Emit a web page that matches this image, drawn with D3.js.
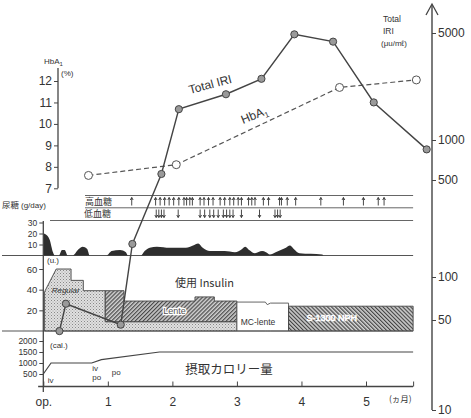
<!DOCTYPE html>
<html>
<head>
<meta charset="utf-8">
<script src="https://cdn.jsdelivr.net/npm/d3@7"></script>
<style>
  body { margin: 0; background: #fff; }
  svg { display: block; }
</style>
</head>
<body>
<svg id="chart" width="471" height="418"></svg>
<script>
// ---- data (time in months after operation) ----
const monthTicks  = [0, 1, 2, 3, 4, 5, 5.73];
const monthLabels = ["op.", "1", "2", "3", "4", "5", ""];

// Total IRI (μu/ml), log axis
const iriTicks  = [10, 50, 100, 500, 1000, 5000];
const iriMonths = [0.25, 0.35, 1.2, 1.38, 1.83, 2.1, 2.83, 3.38, 3.89, 4.49, 5.12, 5.94];
const iriValues = [41, 65, 46, 173, 555, 1590, 1990, 2510, 4900, 4390, 1760, 850];

// HbA1 (%)
const hbTicks   = [7, 8, 9, 10, 11, 12];
const hbMonths  = [0.7, 2.06, 4.59, 5.78];
const hbValues  = [7.6, 8.1, 11.7, 12.05];

// hyper- / hypoglycaemia episodes
const hyperMonths = [1.37, 1.74, 1.81, 1.88, 1.95, 2.02, 2.1, 2.18, 2.22, 2.27, 2.31, 2.43, 2.49, 2.56,
                     2.63, 2.74, 2.81, 2.89, 2.95, 3.02, 3.07, 3.18, 3.23, 3.28, 3.41, 3.49, 3.66, 3.69,
                     3.78, 3.91, 4.3, 4.65, 4.96, 5.19, 5.28];
const hypoMonths  = [1.75, 1.79, 1.83, 1.87, 2.09, 2.43, 2.5, 2.58, 2.64, 2.71, 2.79, 2.84, 2.89, 2.94,
                     3.07, 3.35, 3.59, 3.63, 3.67];

// urinary glucose (g/day)
const urineTicks  = [10, 20, 30];
const urineMonths = [0, 0.04, 0.1, 0.15, 0.18, 0.24, 0.29, 0.33, 0.38, 0.45, 0.55, 0.61, 0.68, 0.72,
                     0.98, 1.06, 1.19, 1.28, 1.31, 1.51, 1.57, 1.65, 1.76, 1.96, 2.21, 2.32, 2.4, 2.47,
                     2.58, 2.81, 2.97, 3.08, 3.13, 3.19, 3.28, 3.39, 3.45, 3.51, 3.6, 3.76, 3.82, 3.88,
                     3.97, 4.32, 4.34];
const urineValues = [20, 19, 14, 3, 0, 0, 5, 5, 0, 0, 6, 8, 6, 0,
                     0, 4, 5, 3, 0, 0, 4, 7, 8, 7, 7, 9, 11, 7,
                     4, 4, 3, 6, 8, 5, 2, 4, 3, 1, 3, 7, 9, 6,
                     2, 1, 0];

// insulin doses (u.)
const insTicks       = [20, 40, 60];
const regularMonths  = [0.02, 0.2, 0.43, 0.43, 0.62, 0.62, 0.96, 0.96, 3.0];
const regularDoses   = [38, 60, 60, 49, 49, 39, 39, 9, 9];
const lenteMonths    = [0.96, 1.25, 1.25, 2.35, 2.35, 2.65, 2.65, 3.0];
const lenteDoses     = [30, 30, 20, 20, 24, 24, 20, 20];
const mcLenteMonths  = [3.0, 3.44, 3.47, 3.52, 3.8];
const mcLenteDoses   = [28, 28, 25.5, 27, 27];
const nphMonths      = [3.8, 5.73];
const nphDoses       = [24, 24];

// caloric intake (cal.)
const calTicks    = [500, 1000, 1500, 2000];
const calMonths   = [0, 0.12, 0.75, 0.9, 1.8, 5.73];
const calValues   = [500, 1000, 1000, 1150, 1500, 1500];

// ---- drawing ----
const ink = "#333";
const latin = "'Liberation Sans', Arial, sans-serif";
const jp = "'Noto Sans CJK JP', sans-serif";
const svg = d3.select("#chart");

const x     = d3.scaleLinear().domain([0, 5]).range([43.3, 366]);
const yHb   = d3.scaleLinear().domain([7, 12]).range([188.3, 81]);
const yIri  = d3.scaleLog().domain(iriTicks).range([410, 320, 277, 180, 140, 33]);
const yUr   = d3.scaleLinear().domain([0, 30]).range([255.5, 222.5]);
const yIns  = d3.scaleLinear().domain([0, 60]).range([331, 269]);
const yCal  = d3.scaleLinear().domain([0, 2000]).range([385, 341]);
const xEnd  = x(5.73);

// fill patterns
const defs = svg.append("defs");
const stip = defs.append("pattern").attr("id", "stipple")
  .attr("patternUnits", "userSpaceOnUse").attr("width", 3).attr("height", 3);
stip.append("rect").attr("width", 3).attr("height", 3).attr("fill", "#e0e0e0");
stip.append("rect").attr("x", 0).attr("y", 0).attr("width", 1).attr("height", 1).attr("fill", "#888");
stip.append("rect").attr("x", 1.5).attr("y", 1.5).attr("width", 1).attr("height", 1).attr("fill", "#a0a0a0");

const lenteP = defs.append("pattern").attr("id", "hatchLente")
  .attr("patternUnits", "userSpaceOnUse").attr("width", 2.8).attr("height", 2.8)
  .attr("patternTransform", "rotate(45)");
lenteP.append("rect").attr("width", 2.8).attr("height", 2.8).attr("fill", "#cfcfcf");
lenteP.append("line").attr("x1", 0.6).attr("y1", 0).attr("x2", 0.6).attr("y2", 2.8)
  .attr("stroke", "#4a4a4a").attr("stroke-width", 1.2);

const nphP = defs.append("pattern").attr("id", "hatchNph")
  .attr("patternUnits", "userSpaceOnUse").attr("width", 2.8).attr("height", 2.8)
  .attr("patternTransform", "rotate(-45)");
nphP.append("rect").attr("width", 2.8).attr("height", 2.8).attr("fill", "#d4d4d4");
nphP.append("line").attr("x1", 0.6).attr("y1", 0).attr("x2", 0.6).attr("y2", 2.8)
  .attr("stroke", "#444").attr("stroke-width", 1.2);

function hline(y, x1, x2, w = 1, c = "#555") {
  svg.append("line").attr("x1", x1).attr("x2", x2).attr("y1", y).attr("y2", y)
    .attr("stroke", c).attr("stroke-width", w);
}
function label(t, px, py, size, opts = {}) {
  return svg.append("text").attr("x", px).attr("y", py)
    .attr("font-family", opts.family || latin).attr("font-size", size)
    .attr("fill", opts.fill || ink).attr("text-anchor", opts.anchor || "start")
    .text(t);
}

// ---- insulin blocks ----
const ins = svg.append("g");
ins.append("path")
  .datum(regularMonths.map((m, i) => [m, regularDoses[i]]))
  .attr("d", d3.area().x(d => x(d[0])).y0(yIns(0)).y1(d => yIns(d[1])))
  .attr("fill", "url(#stipple)").attr("stroke", "#444").attr("stroke-width", 0.9);
ins.append("path")
  .datum(lenteMonths.map((m, i) => [m, lenteDoses[i]]))
  .attr("d", d3.area().x(d => x(d[0])).y0(yIns(9)).y1(d => yIns(9 + d[1])))
  .attr("fill", "url(#hatchLente)").attr("stroke", "#444").attr("stroke-width", 0.9);
ins.append("path")
  .datum(mcLenteMonths.map((m, i) => [m, mcLenteDoses[i]]))
  .attr("d", d3.area().x(d => x(d[0])).y0(yIns(0)).y1(d => yIns(d[1])))
  .attr("fill", "#fff").attr("stroke", "#555").attr("stroke-width", 0.9);
ins.append("path")
  .datum(nphMonths.map((m, i) => [m, nphDoses[i]]))
  .attr("d", d3.area().x(d => x(d[0])).y0(yIns(0)).y1(d => yIns(d[1])))
  .attr("fill", "url(#hatchNph)").attr("stroke", "#444").attr("stroke-width", 0.9);

// insulin names
label("Regular", x(0.13), yIns(37), 8, { fill: "#333" }).attr("font-style", "italic");
label("Lente", x(1.86), yIns(16), 9, { fill: "#555" })
  .attr("stroke", "#fff").attr("stroke-width", 2.5).attr("paint-order", "stroke");
label("MC-lente", x(3.06), yIns(6), 8.5, { fill: "#333" });
label("S-1300 NPH", x(4.47), yIns(10), 9, { fill: "#fff", anchor: "middle" })
  .attr("stroke", "#fff").attr("stroke-width", 0.6);
label("使用 Insulin", x(2.04), yIns(43), 11, { family: jp });

// ---- guide / baseline lines ----
hline(195.5, 85, xEnd, 1, "#666");
hline(207.8, 85, xEnd, 1, "#666");
hline(220.5, 50, xEnd, 1, "#666");
hline(yUr(0), 2, xEnd, 1.2, "#555");
hline(yIns(0), 2, xEnd, 1.2, "#555");

// ---- urinary glucose ----
svg.append("path")
  .datum(urineMonths.map((m, i) => [m, urineValues[i]]))
  .attr("d", d3.area().curve(d3.curveMonotoneX).x(d => x(d[0])).y0(yUr(0)).y1(d => yUr(d[1])))
  .attr("fill", "#2e2e2e");

// ---- hyper / hypoglycaemia marks ----
label("高血糖", 85, 204.5, 9, { family: jp });
label("低血糖", 84, 217, 9, { family: jp });
const ev = svg.append("g").attr("stroke", "#333").attr("stroke-width", 0.9).attr("fill", "none");
hyperMonths.forEach(m => {
  const px = x(m);
  ev.append("path").attr("d", `M${px},205.5V197.5M${px - 1.4},200L${px},197.5L${px + 1.4},200`);
});
hypoMonths.forEach(m => {
  const px = x(m);
  ev.append("path").attr("d", `M${px},209.5V217.5M${px - 1.4},215L${px},217.5L${px + 1.4},215`);
});

// ---- caloric intake ----
svg.append("path")
  .datum(calMonths.map((m, i) => [m, calValues[i]]))
  .attr("d", d3.line().x(d => x(d[0])).y(d => yCal(d[1])))
  .attr("fill", "none").attr("stroke", "#444").attr("stroke-width", 1.2);
label("iv", x(0.07), 383, 8);
label("iv", x(0.76), 371, 8);
label("po", x(0.76), 380, 8);
label("po", x(1.06), 375, 8);
label("摂取カロリー量", x(2.2), 374, 12.5, { family: jp });

// ---- left axes ----
svg.append("line").attr("x1", x(0)).attr("x2", x(0)).attr("y1", 221).attr("y2", 392)
  .attr("stroke", "#444").attr("stroke-width", 1.3);

function leftTicks(scale, values, size) {
  const g = svg.append("g").attr("transform", `translate(${x(0)},0)`)
    .call(d3.axisLeft(scale).tickValues(values).tickSize(4).tickPadding(2).tickFormat(d3.format("d")));
  g.select(".domain").remove();
  g.selectAll("line").attr("stroke", "#444");
  g.selectAll("text").attr("font-family", latin).attr("font-size", size).attr("fill", ink);
  return g;
}
leftTicks(yUr, urineTicks, 8.5);
leftTicks(yIns, insTicks, 9.5);
leftTicks(yCal, calTicks, 8.5);

label("尿糖", 2, 208, 8.5, { family: jp });
label("(g/day)", 21, 208, 8);
label("(u.)", 47, 263, 8);
label("(cal.)", 50, 348, 8);

// HbA1 axis
const hbAxisX = 58;
svg.append("line").attr("x1", hbAxisX).attr("x2", hbAxisX).attr("y1", 68).attr("y2", yHb(7))
  .attr("stroke", "#444").attr("stroke-width", 1.3);
const gHb = svg.append("g").attr("transform", `translate(${hbAxisX},0)`)
  .call(d3.axisLeft(yHb).tickValues(hbTicks).tickSize(4).tickPadding(2).tickFormat(d3.format("d")));
gHb.select(".domain").remove();
gHb.selectAll("line").attr("stroke", "#444");
gHb.selectAll("text").attr("font-family", latin).attr("font-size", 12).attr("fill", ink);
const hbTitle = label("HbA", 44, 64, 8);
hbTitle.append("tspan").attr("font-size", 6).attr("dy", 2).text("1");
label("(%)", 61, 76, 8);

// ---- bottom axis ----
const gx = svg.append("g").attr("transform", "translate(0,386.5)")
  .call(d3.axisBottom(x).tickValues(monthTicks).tickSize(-5).tickPadding(11)
    .tickFormat((d, i) => monthLabels[i]));
gx.select(".domain").remove();
gx.selectAll("line").attr("stroke", "#444");
gx.selectAll("text").attr("font-family", latin).attr("font-size", 12).attr("fill", ink);
hline(386.5, x(-0.08), xEnd, 1.3, "#444");
label("(ヵ月)", 389, 402, 8.5, { family: jp });

// ---- right IRI axis ----
const rx = 432;
svg.append("line").attr("x1", rx).attr("x2", rx).attr("y1", 5).attr("y2", yIri(10))
  .attr("stroke", "#444").attr("stroke-width", 1.4);
svg.append("path").attr("d", `M${rx - 6},15L${rx},4L${rx + 6},15`)
  .attr("fill", "none").attr("stroke", "#444").attr("stroke-width", 1.3);
const gIri = svg.append("g").attr("transform", `translate(${rx},0)`)
  .call(d3.axisRight(yIri).tickValues(iriTicks).tickSize(4).tickPadding(2).tickFormat(d3.format("d")));
gIri.select(".domain").remove();
gIri.selectAll("line").attr("stroke", "#444");
gIri.selectAll("text").attr("font-family", latin).attr("font-size", 12).attr("fill", ink);
label("Total", 383, 22, 8.5);
label("IRI", 383, 34, 8.5);
label("(μu/mℓ)", 381, 46, 8);

// ---- HbA1 series ----
const hbPts = hbMonths.map((m, i) => [x(m), yHb(hbValues[i])]);
svg.append("path").attr("d", d3.line()(hbPts))
  .attr("fill", "none").attr("stroke", "#555").attr("stroke-width", 1.2).attr("stroke-dasharray", "5,3");
svg.selectAll(".hb").data(hbPts).join("circle").attr("class", "hb")
  .attr("cx", d => d[0]).attr("cy", d => d[1]).attr("r", 4)
  .attr("fill", "#fff").attr("stroke", "#555").attr("stroke-width", 1);

// ---- Total IRI series ----
const iriPts = iriMonths.map((m, i) => [x(m), yIri(iriValues[i])]);
svg.append("path").attr("d", d3.line()(iriPts))
  .attr("fill", "none").attr("stroke", "#444").attr("stroke-width", 1.4);
svg.selectAll(".iri").data(iriPts).join("circle").attr("class", "iri")
  .attr("cx", d => d[0]).attr("cy", d => d[1]).attr("r", 3.6)
  .attr("fill", "#9a9a9a").attr("stroke", "#444").attr("stroke-width", 1);

// series names along the lines
label("Total  IRI", 0, 0, 12).attr("transform", "translate(190,94) rotate(-15)");
const hbName = label("HbA", 0, 0, 12);
hbName.append("tspan").attr("font-size", 8).attr("dy", 3).text("1");
hbName.attr("transform", "translate(243,124) rotate(-22)");
</script>
</body>
</html>
